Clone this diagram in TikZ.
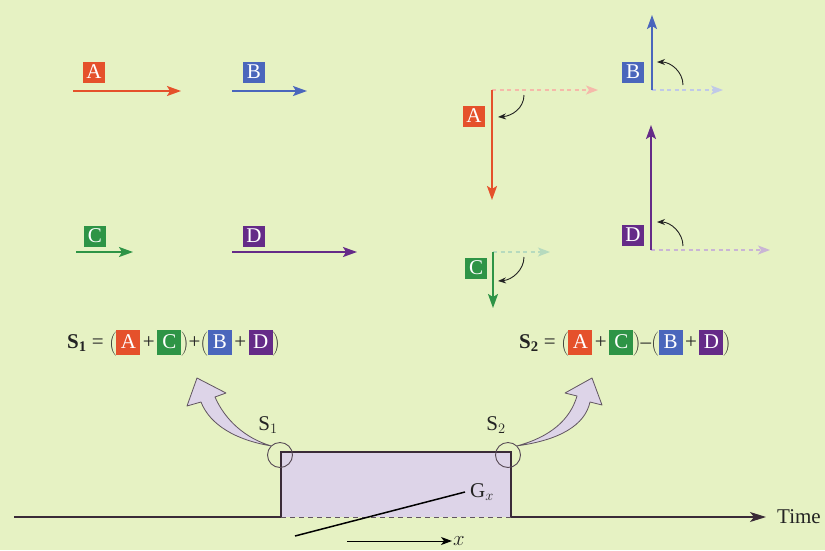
\documentclass[tikz,border=0pt]{standalone}
\usepackage{fontspec}
\setmainfont{Liberation Serif}
\usepackage{tikz}
\usetikzlibrary{positioning,arrows.meta,calc}

\definecolor{paper}{HTML}{E6F2C3}
\definecolor{vecA}{HTML}{E5512B}
\definecolor{vecB}{HTML}{4A66BC}
\definecolor{vecC}{HTML}{2E9446}
\definecolor{vecD}{HTML}{652B88}
\definecolor{slab}{HTML}{DDD4E8}
\definecolor{rim}{HTML}{3A2B38}
\definecolor{ink}{HTML}{232323}

% letter tile used inside the sums
\newcommand{\tile}[2]{{\setlength{\fboxsep}{1.5pt}\colorbox{#1}{\makebox[21pt]{\rule[-5pt]{0pt}{22pt}\textcolor{white}{#2}}}}}
\newcommand{\pl}{\kern2.5pt+\kern2.5pt}

\begin{document}
\begin{tikzpicture}[
    x=1pt, y=-1pt,
    tag/.style={text=white, font=\fontsize{21}{21}\selectfont, inner sep=0pt,
      minimum width=22pt, minimum height=21pt},
    vec/.style={line width=1.7pt, -{Stealth[length=14pt,width=10pt,inset=3pt]}},
    ghost/.style={line width=1.2pt, dash pattern=on 4pt off 3.5pt,
      -{Stealth[length=12pt,width=9pt,inset=3pt]}},
    turn/.style={line width=0.9pt, draw=ink, -{Stealth[length=8pt,width=6pt]}},
    txt/.style={text=ink, font=\fontsize{21}{24}\selectfont, inner sep=1pt},
    ring/.style={circle, draw=rim!85, line width=0.9pt, minimum size=25pt, inner sep=0pt},
    bigarrow/.style={fill=slab, draw=rim!80, line width=0.8pt, line join=round}
  ]
    \fill[paper] (0,0) rectangle (825,550);

    % vectors at rest
    \coordinate (a0) at (73,91);  \coordinate (a1) at (181,91);
    \coordinate (b0) at (232,91); \coordinate (b1) at (307,91);
    \coordinate (c0) at (76,252); \coordinate (c1) at (133,252);
    \coordinate (d0) at (232,252); \coordinate (d1) at (357,252);
    \node[tag, fill=vecA] (tagA) at (94,72) {A};
    \node[tag, fill=vecB] (tagB) at (254,72) {B};
    \node[tag, fill=vecC] (tagC) at (95,236) {C};
    \node[tag, fill=vecD] (tagD) at (254,236) {D};
    \draw[vec, vecA] (a0) -- (a1);
    \draw[vec, vecB] (b0) -- (b1);
    \draw[vec, vecC] (c0) -- (c1);
    \draw[vec, vecD] (d0) -- (d1);

    % vectors after the pulse
    \coordinate (ra) at (492,90);  \coordinate (rc) at (493,252);
    \coordinate (rb) at (652,90);  \coordinate (rd) at (651,250);
    \draw[ghost, vecA!40] (ra) -- (598,90);
    \draw[ghost, vecC!35] (rc) -- (550,252);
    \draw[ghost, vecB!35] (rb) -- (723,90);
    \draw[ghost, vecD!35] (rd) -- (770,250);
    \draw[vec, vecA] (ra) -- (492,200);
    \draw[vec, vecC] (rc) -- (493,308);
    \draw[vec, vecB] (rb) -- (652,15);
    \draw[vec, vecD] (rd) -- (651,125);
    \node[tag, fill=vecA] (tagA2) at (474,116) {A};
    \node[tag, fill=vecC] (tagC2) at (476,268) {C};
    \node[tag, fill=vecB] (tagB2) at (633,72) {B};
    \node[tag, fill=vecD] (tagD2) at (633,235) {D};
    \draw[turn] (524,95) .. controls (524,108) and (512,116) .. (498,117);
    \draw[turn] (524,257) .. controls (524,270) and (512,280) .. (498,281);
    \draw[turn] (683,85) .. controls (683,72) and (671,62) .. (657,62);
    \draw[turn] (683,246) .. controls (683,233) and (671,222) .. (657,222);

    % the two sums
    \node[txt, anchor=west] (sumOne) at (66,343)
      {\textbf{S}$_{\mathbf{1}}$ = $\Bigg($\tile{vecA}{A}\pl\tile{vecC}{C}$\Bigg)$+$\Bigg($\tile{vecB}{B}\pl\tile{vecD}{D}$\Bigg)$};
    \node[txt, anchor=west] (sumTwo) at (518,343)
      {\textbf{S}$_{\mathbf{2}}$ = $\Bigg($\tile{vecA}{A}\pl\tile{vecC}{C}$\Bigg)$--$\Bigg($\tile{vecB}{B}\pl\tile{vecD}{D}$\Bigg)$};

    % gradient pulse on the time line
    \fill[slab] (281,452) rectangle (511,517);
    \draw[rim, line width=1.5pt] (281,517) -- (281,452) -- (511,452) -- (511,517);
    \draw[rim!80, line width=1pt, dash pattern=on 5pt off 4pt] (281,517) -- (511,517);
    \coordinate (axstart) at (14,517);
    \node[txt, anchor=west] (timelbl) at (776,517) {Time};
    \draw[rim, line width=1.1pt] (axstart) -- (281,517);
    \draw[rim, line width=1.1pt, -{Stealth[length=16pt,width=10pt,inset=4pt]}]
      (511,517) -- ([xshift=-10pt]timelbl.west);

    \coordinate (gxlo) at (295,536);
    \node[txt, anchor=west] (gxlbl) at (469,492) {G$_x$};
    \draw[black, line width=1.5pt] (gxlo) -- ([xshift=-4pt]gxlbl.west);
    \coordinate (xlo) at (347,541);
    \node[txt, anchor=west] (xlbl) at (452,541) {$x$};
    \draw[black, line width=1pt, -{Stealth[length=11pt,width=8pt,inset=3pt]}] (xlo) -- (xlbl.west);

    % sampling points
    \node[ring] (ring1) at (280,455) {};
    \node[ring] (ring2) at (508,455) {};
    \node[txt] (s1lbl) at (268,425) {S$_1$};
    \node[txt] (s2lbl) at (496,425) {S$_2$};
    \path[bigarrow] (ring1.north west) .. controls (236,440) and (210,425) .. (201,402)
      -- (187,406) -- (197,378) -- (226,393) -- (215,397)
      .. controls (225,420) and (245,438) .. (ring1.north west) -- cycle;
    \path[bigarrow] (ring2.north east) .. controls (560,440) and (585,425) .. (590,402)
      -- (602,405) -- (592,378) -- (565,393) -- (577,396)
      .. controls (570,420) and (550,437) .. (ring2.north east) -- cycle;
  \end{tikzpicture}
\end{document}
